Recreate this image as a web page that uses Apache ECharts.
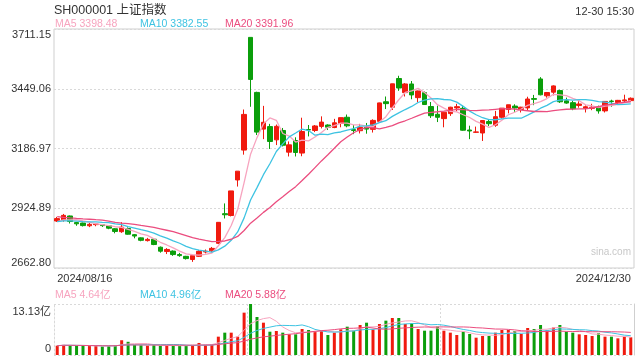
<!DOCTYPE html>
<html><head><meta charset="utf-8">
<script src="https://cdn.jsdelivr.net/npm/echarts@6/dist/echarts.min.js"></script>
<style>html,body{margin:0;padding:0;background:#fff}#c{width:640px;height:360px}</style>
</head><body><div id="c"></div>
<script>
const dates = ['2024/08/16','2024/08/19','2024/08/20','2024/08/21','2024/08/22','2024/08/23','2024/08/26','2024/08/27','2024/08/28','2024/08/29','2024/08/30',
'2024/09/02','2024/09/03','2024/09/04','2024/09/05','2024/09/06','2024/09/09','2024/09/10','2024/09/11','2024/09/12','2024/09/13','2024/09/18','2024/09/19','2024/09/20','2024/09/23','2024/09/24','2024/09/25','2024/09/26','2024/09/27','2024/09/30',
'2024/10/08','2024/10/09','2024/10/10','2024/10/11','2024/10/14','2024/10/15','2024/10/16','2024/10/17','2024/10/18','2024/10/21','2024/10/22','2024/10/23','2024/10/24','2024/10/25','2024/10/28','2024/10/29','2024/10/30','2024/10/31',
'2024/11/01','2024/11/04','2024/11/05','2024/11/06','2024/11/07','2024/11/08','2024/11/11','2024/11/12','2024/11/13','2024/11/14','2024/11/15','2024/11/18','2024/11/19','2024/11/20','2024/11/21','2024/11/22','2024/11/25','2024/11/26','2024/11/27','2024/11/28','2024/11/29',
'2024/12/02','2024/12/03','2024/12/04','2024/12/05','2024/12/06','2024/12/09','2024/12/10','2024/12/11','2024/12/12','2024/12/13','2024/12/16','2024/12/17','2024/12/18','2024/12/19','2024/12/20','2024/12/23','2024/12/24','2024/12/25','2024/12/26','2024/12/27','2024/12/30'];

const opens = [2869,2874,2891,2862,2860,2848,2853,2853,2848,2835,2822,
2836,2809,2795,2783,2789,2754,2735,2737,2722,2714,2700,2714,2733,2738,2771,2901,2893,3049,3180,
3674.40,3433,3272,3283,3225,3266,3171,3222,3167,3270,3266,3284,3290,3279,3297,3324,3270,3265,
3280,3271,3306,3392,3368,3494,3432,3470,3410,3432,3371,3337,3318,3340,3365,3363,3268,3258,3255,3305,3289,
3324,3358,3373,3358,3365,3406,3492,3418,3434,3441,3396,3388,3376,3363,3363,3370,3352,3395,3389,3396,3397];
const highs = [2887,2900,2893,2865,2862,2860,2860,2856,2850,2838,2864,
2841,2812,2797,2795,2793,2757,2750,2740,2729,2716,2720,2741,2744,2755,2864,2946,3001,3088,3358,
3674.40,3436,3374,3295,3292,3277,3218,3236,3322,3290,3290,3328,3293,3317,3323,3336,3290,3295,
3299,3315,3388,3415,3471,3506,3474,3483,3441,3437,3391,3375,3348,3370,3383,3375,3287,3283,3310,3315,3352,
3364,3379,3381,3370,3414,3422,3500,3435,3464,3445,3410,3396,3394,3376,3383,3375,3394,3401,3400,3423,3411];
const lows = [2865,2866,2858,2848,2845,2842,2846,2843,2833,2815,2817,
2809,2793,2780,2779,2763,2730,2724,2716,2712,2700,2689.70,2711,2727,2732,2768,2880,2889,3020,3160,
3370,3246,3228,3185,3202,3196,3152,3152,3153,3240,3259,3275,3268,3276,3280,3280,3250,3253,
3252,3257,3301,3360,3356,3440,3415,3403,3390,3378,3321,3303,3280,3330,3350,3265,3228,3255,3220,3285,3282,
3318,3341,3348,3345,3354,3377,3420,3410,3420,3387,3383,3355,3366,3345,3355,3340,3345,3370,3380,3390,3393];
const closes = [2879.43,2893.67,2866.66,2856.58,2848.77,2854.37,2855.52,2848.73,2837.43,2823.11,2842.21,
2811.04,2802.98,2784.28,2788.31,2765.81,2736.49,2744.19,2721.80,2717.12,2704.09,2717.28,2736.02,2736.81,2748.92,2863.13,2896.31,3000.95,3087.53,3336.50,
3489.78,3258.86,3301.93,3217.74,3284.32,3201.29,3202.95,3169.38,3261.56,3268.11,3285.87,3302.80,3280.26,3299.70,3322.20,3286.41,3266.24,3279.82,
3272.01,3310.21,3386.99,3383.81,3470.66,3452.30,3470.07,3421.97,3439.28,3379.84,3330.73,3323.85,3346.01,3367.99,3370.40,3267.19,3263.76,3259.76,3309.78,3295.70,3326.46,
3363.98,3378.81,3364.65,3368.07,3404.08,3402.53,3422.66,3432.49,3461.50,3391.88,3386.33,3361.49,3382.21,3370.03,3368.07,3351.88,3393.53,3393.35,3398.08,3400.14,3407.33];
// closes of the 19 sessions before 2024/08/16 (for the moving averages)
const priorCloses = [2964.22,2915.37,2901.95,2886.74,2890.90,2891.85,2879.30,2938.75,2932.39,2905.34,2860.70,2867.28,2869.90,2870.22,2862.19,2858.20,2867.95,2850.65,2877.36];
// volume, 亿
const volumes = [2.4,2.6,2.5,2.4,2.4,2.3,2.3,2.2,2.3,2.5,3.8,
3.4,2.6,2.5,2.4,2.5,2.4,2.5,2.4,2.3,2.4,2.6,3.1,2.6,2.7,4.72,5.75,5.75,4.72,10.9,
13.13,9.78,8.32,6.0,6.18,5.75,5.32,5.32,6.69,6.43,6.18,6.26,5.15,5.75,6.61,7.29,6.26,7.72,
8.32,6.61,7.98,8.84,9.52,9.52,7.98,8.15,6.69,6.26,6.26,7.29,6.26,5.75,5.15,6.0,5.41,4.46,4.89,4.89,5.75,
6.43,6.43,6.18,5.41,6.95,6.69,7.72,6.43,7.07,7.72,6.0,5.75,5.32,5.15,4.89,5.58,4.72,4.72,4.29,4.72,4.55];

const priceTicks = ['2662.80','2924.89','3186.97','3449.06','3711.15'];
const priceMin = 2662.80, priceMax = 3711.15;
const volTicks = ['0','13.13亿'];
const volMax = 13.13;
const priceLegend = ['MA5 3398.48','MA10 3382.55','MA20 3391.96'];
const volLegend = ['MA5 4.64亿','MA10 4.96亿','MA20 5.88亿'];
const titleText = 'SH000001 上证指数';
const timeText = '12-30 15:30';

const RED = '#f01a0e', GREEN = '#0b9e0b';
const C5 = '#f7a4bf', C10 = '#3ec3e2', C20 = '#eb4d7f';
const FONT = '"Liberation Sans", Arial, "Noto Sans CJK SC", sans-serif';
const GRIDC = '#d9d9d9';

function ma(arr, prior, n) {
  const all = prior.concat(arr), off = prior.length;
  return arr.map((_, i) => {
    const j = i + off, s = Math.max(0, j - n + 1);
    let sum = 0;
    for (let k = s; k <= j; k++) sum += all[k];
    return +(sum / (j - s + 1)).toFixed(3);
  });
}

const kData = dates.map((d, i) => [opens[i], closes[i], lows[i], highs[i]]);
const volData = volumes.map((v, i) => ({value: v, itemStyle: {color: closes[i] >= opens[i] ? RED : GREEN}}));

const lbl = {fontSize: 11, color: '#333', fontFamily: FONT};
const chart = echarts.init(document.getElementById('c'), null, {renderer: 'canvas'});
chart.setOption({
  animation: false,
  textStyle: {fontFamily: FONT},
  title: [
    {text: titleText, left: 54, top: 4, padding: 0, textStyle: {fontSize: 12.5, fontWeight: 'normal', color: '#333', fontFamily: FONT}},
    {text: timeText, right: 6, top: 6, padding: 0, textStyle: {fontSize: 11, fontWeight: 'normal', color: '#333', fontFamily: FONT}},
    {text: priceLegend[0], left: 55, top: 19, padding: 0, textStyle: {fontSize: 10.5, fontWeight: 'normal', color: C5, fontFamily: FONT}},
    {text: priceLegend[1], left: 140, top: 19, padding: 0, textStyle: {fontSize: 10.5, fontWeight: 'normal', color: C10, fontFamily: FONT}},
    {text: priceLegend[2], left: 225, top: 19, padding: 0, textStyle: {fontSize: 10.5, fontWeight: 'normal', color: C20, fontFamily: FONT}},
    {text: volLegend[0], left: 55, top: 290, padding: 0, textStyle: {fontSize: 10.5, fontWeight: 'normal', color: C5, fontFamily: FONT}},
    {text: volLegend[1], left: 140, top: 290, padding: 0, textStyle: {fontSize: 10.5, fontWeight: 'normal', color: C10, fontFamily: FONT}},
    {text: volLegend[2], left: 225, top: 290, padding: 0, textStyle: {fontSize: 10.5, fontWeight: 'normal', color: C20, fontFamily: FONT}}
  ],
  graphic: [{type: 'text', right: 9, top: 247, style: {text: 'sina.com', fill: '#c8c8c8', fontSize: 10, fontFamily: FONT}}],
  grid: [
    {left: 54, top: 29, width: 580, height: 239, show: true, borderColor: '#cfcfcf', borderWidth: 1, backgroundColor: 'transparent'},
    {left: 54, top: 304, width: 580, height: 51, show: false}
  ],
  xAxis: [
    {type: 'category', gridIndex: 0, data: dates, boundaryGap: true,
     axisLine: {show: false}, axisTick: {show: false}, splitLine: {show: false},
     axisLabel: Object.assign({interval: (i) => i === 0 || i === dates.length - 1, margin: 5,
       alignMinLabel: 'left', alignMaxLabel: 'right'}, lbl)},
    {type: 'category', gridIndex: 1, data: dates, boundaryGap: true,
     axisLine: {show: false}, axisTick: {show: false}, axisLabel: {show: false},
     splitLine: {show: true, interval: (i) => i === 30 || i === 60, lineStyle: {color: GRIDC, type: [2, 2], width: 1}}}
  ],
  yAxis: [
    {type: 'value', gridIndex: 0, min: priceMin, max: priceMax, interval: (priceMax - priceMin) / 4, scale: true,
     axisLine: {show: false}, axisTick: {show: false},
     splitLine: {show: true, lineStyle: {color: GRIDC, type: [2, 2], width: 1}},
     axisLabel: {margin: 3, fontFamily: FONT,
       formatter: (v, i) => {
         const s = priceTicks[i] || '';
         if (i === 0) return '{b|' + s + '}';
         if (i === priceTicks.length - 1) return '{t|' + s + '}';
         return '{m|' + s + '}';
       },
       rich: {t: Object.assign({padding: [12, 0, 0, 0]}, lbl), b: Object.assign({padding: [0, 0, 11, 0]}, lbl), m: Object.assign({}, lbl)}}},
    {type: 'value', gridIndex: 1, min: 0, max: volMax, interval: volMax,
     axisLine: {show: true, lineStyle: {color: GRIDC, type: [2, 2]}}, axisTick: {show: false},
     splitLine: {show: true, lineStyle: {color: GRIDC, type: [2, 2], width: 1}},
     axisLabel: {margin: 3, fontFamily: FONT,
       formatter: (v, i) => {
         const s = volTicks[i] || '';
         return i === 0 ? '{b|' + s + '}' : '{t|' + s + '}';
       },
       rich: {t: Object.assign({padding: [16, 0, 0, 0]}, lbl), b: Object.assign({padding: [0, 0, 12, 0]}, lbl)}}},
    {type: 'value', gridIndex: 1, position: 'right', min: 0, max: volMax, interval: volMax,
     axisLine: {show: true, lineStyle: {color: '#cfcfcf'}}, axisTick: {show: false}, axisLabel: {show: false}, splitLine: {show: false}}
  ],
  series: [
    {type: 'candlestick', xAxisIndex: 0, yAxisIndex: 0, data: kData, barWidth: 5,
     itemStyle: {color: RED, color0: GREEN, borderColor: RED, borderColor0: GREEN, borderWidth: 1}},
    {type: 'line', xAxisIndex: 0, yAxisIndex: 0, data: ma(closes, priorCloses, 5), symbol: 'none', lineStyle: {color: C5, width: 1.3}, z: 5},
    {type: 'line', xAxisIndex: 0, yAxisIndex: 0, data: ma(closes, priorCloses, 10), symbol: 'none', lineStyle: {color: C10, width: 1.3}, z: 5},
    {type: 'line', xAxisIndex: 0, yAxisIndex: 0, data: ma(closes, priorCloses, 20), symbol: 'none', lineStyle: {color: C20, width: 1.3}, z: 5},
    {type: 'bar', xAxisIndex: 1, yAxisIndex: 1, data: volData, barWidth: 3},
    {type: 'line', xAxisIndex: 1, yAxisIndex: 1, data: ma(volumes, [], 5), symbol: 'none', lineStyle: {color: C5, width: 1}, z: 5},
    {type: 'line', xAxisIndex: 1, yAxisIndex: 1, data: ma(volumes, [], 10), symbol: 'none', lineStyle: {color: C10, width: 1}, z: 5},
    {type: 'line', xAxisIndex: 1, yAxisIndex: 1, data: ma(volumes, [], 20), symbol: 'none', lineStyle: {color: C20, width: 1}, z: 5}
  ]
});
</script></body></html>
